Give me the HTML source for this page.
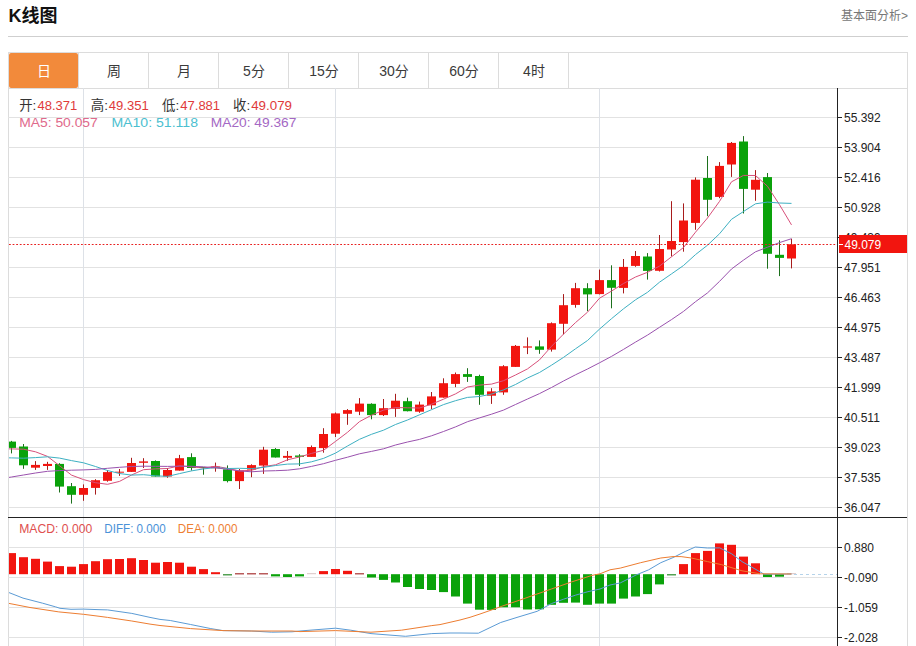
<!DOCTYPE html>
<html><head><meta charset="utf-8"><title>K线图</title>
<style>
html,body{margin:0;padding:0;background:#fff;}
body{width:916px;height:646px;overflow:hidden;}
svg{display:block;}
text{font-family:"Liberation Sans", "Noto Sans CJK SC", sans-serif;}
.title{font-size:18px;font-weight:bold;fill:#111;}
.more{font-size:12px;fill:#777;}
.tab{font-size:14px;fill:#3a3a3a;}
.tabw{fill:#fff;}
.ax{font-size:12px;fill:#222;}
.axw{font-size:12px;fill:#fff;}
.info{font-size:13.4px;}
.info2{font-size:12.2px;}
</style></head>
<body>
<svg width="916" height="646" viewBox="0 0 916 646">
<defs>
<clipPath id="plot"><rect x="9" y="89" width="828" height="428"/></clipPath>
<clipPath id="plot2"><rect x="9" y="518" width="828" height="128"/></clipPath>
</defs>
<rect width="916" height="646" fill="#fff"/>
<text x="8.5" y="22" class="title">K线图</text>
<text x="908" y="19.5" class="more" text-anchor="end">基本面分析&gt;</text>
<line x1="8" y1="36.5" x2="908" y2="36.5" stroke="#cfcfcf"/>
<line x1="8.5" y1="52" x2="8.5" y2="646" stroke="#dcdcdc"/>
<line x1="907.5" y1="52" x2="907.5" y2="646" stroke="#dcdcdc"/>
<line x1="8" y1="52.5" x2="908" y2="52.5" stroke="#dcdcdc"/>
<line x1="8" y1="88.5" x2="908" y2="88.5" stroke="#dcdcdc"/>
<rect x="9" y="53" width="69" height="35" rx="2" fill="#f28a3b"/>
<text x="44" y="75.5" class="tab tabw" text-anchor="middle">日</text>
<line x1="78.5" y1="52" x2="78.5" y2="88" stroke="#dcdcdc"/>
<text x="114" y="75.5" class="tab" text-anchor="middle">周</text>
<line x1="148.5" y1="52" x2="148.5" y2="88" stroke="#dcdcdc"/>
<text x="184" y="75.5" class="tab" text-anchor="middle">月</text>
<line x1="218.5" y1="52" x2="218.5" y2="88" stroke="#dcdcdc"/>
<text x="254" y="75.5" class="tab" text-anchor="middle">5分</text>
<line x1="288.5" y1="52" x2="288.5" y2="88" stroke="#dcdcdc"/>
<text x="324" y="75.5" class="tab" text-anchor="middle">15分</text>
<line x1="358.5" y1="52" x2="358.5" y2="88" stroke="#dcdcdc"/>
<text x="394" y="75.5" class="tab" text-anchor="middle">30分</text>
<line x1="428.5" y1="52" x2="428.5" y2="88" stroke="#dcdcdc"/>
<text x="464" y="75.5" class="tab" text-anchor="middle">60分</text>
<line x1="498.5" y1="52" x2="498.5" y2="88" stroke="#dcdcdc"/>
<text x="534" y="75.5" class="tab" text-anchor="middle">4时</text>
<line x1="568.5" y1="52" x2="568.5" y2="88" stroke="#dcdcdc"/>
<line x1="8" y1="117.5" x2="837" y2="117.5" stroke="#e2e2e2"/>
<line x1="8" y1="147.5" x2="837" y2="147.5" stroke="#e2e2e2"/>
<line x1="8" y1="177.5" x2="837" y2="177.5" stroke="#e2e2e2"/>
<line x1="8" y1="207.5" x2="837" y2="207.5" stroke="#e2e2e2"/>
<line x1="8" y1="237.5" x2="837" y2="237.5" stroke="#e2e2e2"/>
<line x1="8" y1="267.5" x2="837" y2="267.5" stroke="#e2e2e2"/>
<line x1="8" y1="297.5" x2="837" y2="297.5" stroke="#e2e2e2"/>
<line x1="8" y1="327.5" x2="837" y2="327.5" stroke="#e2e2e2"/>
<line x1="8" y1="357.5" x2="837" y2="357.5" stroke="#e2e2e2"/>
<line x1="8" y1="387.5" x2="837" y2="387.5" stroke="#e2e2e2"/>
<line x1="8" y1="417.5" x2="837" y2="417.5" stroke="#e2e2e2"/>
<line x1="8" y1="447.5" x2="837" y2="447.5" stroke="#e2e2e2"/>
<line x1="8" y1="477.5" x2="837" y2="477.5" stroke="#e2e2e2"/>
<line x1="8" y1="507.5" x2="837" y2="507.5" stroke="#e2e2e2"/>
<line x1="8" y1="547.5" x2="837" y2="547.5" stroke="#e2e2e2"/>
<line x1="8" y1="577.5" x2="837" y2="577.5" stroke="#e2e2e2"/>
<line x1="8" y1="607.5" x2="837" y2="607.5" stroke="#e2e2e2"/>
<line x1="8" y1="637.5" x2="837" y2="637.5" stroke="#e2e2e2"/>
<line x1="83.5" y1="88" x2="83.5" y2="646" stroke="#dde1e7"/>
<line x1="335.5" y1="88" x2="335.5" y2="646" stroke="#dde1e7"/>
<line x1="599.5" y1="88" x2="599.5" y2="646" stroke="#dde1e7"/>
<g clip-path="url(#plot)">
<line x1="11.5" y1="440.9" x2="11.5" y2="453.4" stroke="#1c701c" stroke-width="1"/>
<rect x="7.0" y="441.6" width="9" height="6.3" fill="#0aa20a"/>
<line x1="23.5" y1="444.0" x2="23.5" y2="468.8" stroke="#1c701c" stroke-width="1"/>
<rect x="19.0" y="446.5" width="9" height="18.8" fill="#0aa20a"/>
<line x1="35.5" y1="461.1" x2="35.5" y2="469.9" stroke="#a81c1c" stroke-width="1"/>
<rect x="31.0" y="464.9" width="9" height="2.8" fill="#f2150f"/>
<line x1="47.5" y1="461.8" x2="47.5" y2="469.9" stroke="#a81c1c" stroke-width="1"/>
<rect x="43.0" y="463.9" width="9" height="2.1" fill="#f2150f"/>
<line x1="59.5" y1="463.2" x2="59.5" y2="492.5" stroke="#1c701c" stroke-width="1"/>
<rect x="55.0" y="463.9" width="9" height="22.7" fill="#0aa20a"/>
<line x1="71.5" y1="483.0" x2="71.5" y2="503.6" stroke="#1c701c" stroke-width="1"/>
<rect x="67.0" y="486.2" width="9" height="8.6" fill="#0aa20a"/>
<line x1="83.5" y1="484.4" x2="83.5" y2="500.8" stroke="#a81c1c" stroke-width="1"/>
<rect x="79.0" y="488.0" width="9" height="6.8" fill="#f2150f"/>
<line x1="95.5" y1="479.2" x2="95.5" y2="494.6" stroke="#a81c1c" stroke-width="1"/>
<rect x="91.0" y="480.2" width="9" height="7.7" fill="#f2150f"/>
<line x1="107.5" y1="470.0" x2="107.5" y2="481.7" stroke="#a81c1c" stroke-width="1"/>
<rect x="103.0" y="472.1" width="9" height="8.7" fill="#f2150f"/>
<line x1="119.5" y1="469.0" x2="119.5" y2="475.9" stroke="#a81c1c" stroke-width="1"/>
<rect x="115.0" y="471.7" width="9" height="1.0" fill="#f2150f"/>
<line x1="131.5" y1="457.8" x2="131.5" y2="471.9" stroke="#a81c1c" stroke-width="1"/>
<rect x="127.0" y="463.0" width="9" height="8.9" fill="#f2150f"/>
<line x1="143.5" y1="458.2" x2="143.5" y2="468.0" stroke="#a81c1c" stroke-width="1"/>
<rect x="139.0" y="461.4" width="9" height="1.4" fill="#f2150f"/>
<line x1="155.5" y1="460.4" x2="155.5" y2="476.5" stroke="#1c701c" stroke-width="1"/>
<rect x="151.0" y="461.0" width="9" height="15.5" fill="#0aa20a"/>
<line x1="167.5" y1="468.0" x2="167.5" y2="477.8" stroke="#a81c1c" stroke-width="1"/>
<rect x="163.0" y="470.0" width="9" height="6.5" fill="#f2150f"/>
<line x1="179.5" y1="454.9" x2="179.5" y2="470.6" stroke="#a81c1c" stroke-width="1"/>
<rect x="175.0" y="458.2" width="9" height="12.4" fill="#f2150f"/>
<line x1="191.5" y1="453.3" x2="191.5" y2="470.6" stroke="#1c701c" stroke-width="1"/>
<rect x="187.0" y="457.1" width="9" height="10.9" fill="#0aa20a"/>
<line x1="203.5" y1="467.0" x2="203.5" y2="474.7" stroke="#1c701c" stroke-width="1"/>
<rect x="199.0" y="467.0" width="9" height="1.0" fill="#0aa20a"/>
<line x1="215.5" y1="462.6" x2="215.5" y2="471.7" stroke="#a81c1c" stroke-width="1"/>
<rect x="211.0" y="466.6" width="9" height="1.6" fill="#f2150f"/>
<line x1="227.5" y1="465.4" x2="227.5" y2="482.4" stroke="#1c701c" stroke-width="1"/>
<rect x="223.0" y="469.3" width="9" height="11.8" fill="#0aa20a"/>
<line x1="239.5" y1="469.0" x2="239.5" y2="489.0" stroke="#a81c1c" stroke-width="1"/>
<rect x="235.0" y="470.6" width="9" height="10.5" fill="#f2150f"/>
<line x1="251.5" y1="464.3" x2="251.5" y2="477.2" stroke="#a81c1c" stroke-width="1"/>
<rect x="247.0" y="465.1" width="9" height="4.5" fill="#f2150f"/>
<line x1="263.5" y1="446.8" x2="263.5" y2="473.9" stroke="#a81c1c" stroke-width="1"/>
<rect x="259.0" y="449.7" width="9" height="15.9" fill="#f2150f"/>
<line x1="275.5" y1="448.1" x2="275.5" y2="457.5" stroke="#1c701c" stroke-width="1"/>
<rect x="271.0" y="449.0" width="9" height="8.5" fill="#0aa20a"/>
<line x1="287.5" y1="451.0" x2="287.5" y2="460.8" stroke="#a81c1c" stroke-width="1"/>
<rect x="283.0" y="455.9" width="9" height="1.9" fill="#f2150f"/>
<line x1="299.5" y1="454.2" x2="299.5" y2="466.0" stroke="#1c701c" stroke-width="1"/>
<rect x="295.0" y="455.5" width="9" height="1.4" fill="#0aa20a"/>
<line x1="311.5" y1="445.5" x2="311.5" y2="456.9" stroke="#a81c1c" stroke-width="1"/>
<rect x="307.0" y="447.0" width="9" height="9.9" fill="#f2150f"/>
<line x1="323.5" y1="428.2" x2="323.5" y2="452.7" stroke="#a81c1c" stroke-width="1"/>
<rect x="319.0" y="434.0" width="9" height="14.1" fill="#f2150f"/>
<line x1="335.5" y1="412.5" x2="335.5" y2="437.0" stroke="#a81c1c" stroke-width="1"/>
<rect x="331.0" y="413.4" width="9" height="20.3" fill="#f2150f"/>
<line x1="347.5" y1="409.1" x2="347.5" y2="424.8" stroke="#a81c1c" stroke-width="1"/>
<rect x="343.0" y="410.1" width="9" height="3.7" fill="#f2150f"/>
<line x1="359.5" y1="398.1" x2="359.5" y2="415.1" stroke="#a81c1c" stroke-width="1"/>
<rect x="355.0" y="403.6" width="9" height="8.1" fill="#f2150f"/>
<line x1="371.5" y1="403.3" x2="371.5" y2="419.3" stroke="#1c701c" stroke-width="1"/>
<rect x="367.0" y="403.8" width="9" height="11.3" fill="#0aa20a"/>
<line x1="383.5" y1="399.0" x2="383.5" y2="416.0" stroke="#a81c1c" stroke-width="1"/>
<rect x="379.0" y="408.2" width="9" height="6.9" fill="#f2150f"/>
<line x1="395.5" y1="393.8" x2="395.5" y2="416.9" stroke="#a81c1c" stroke-width="1"/>
<rect x="391.0" y="400.7" width="9" height="8.1" fill="#f2150f"/>
<line x1="407.5" y1="397.7" x2="407.5" y2="411.4" stroke="#1c701c" stroke-width="1"/>
<rect x="403.0" y="401.2" width="9" height="10.0" fill="#0aa20a"/>
<line x1="419.5" y1="401.6" x2="419.5" y2="412.8" stroke="#a81c1c" stroke-width="1"/>
<rect x="415.0" y="404.6" width="9" height="7.1" fill="#f2150f"/>
<line x1="431.5" y1="392.0" x2="431.5" y2="409.1" stroke="#a81c1c" stroke-width="1"/>
<rect x="427.0" y="396.4" width="9" height="8.9" fill="#f2150f"/>
<line x1="443.5" y1="378.3" x2="443.5" y2="397.6" stroke="#a81c1c" stroke-width="1"/>
<rect x="439.0" y="383.2" width="9" height="14.4" fill="#f2150f"/>
<line x1="455.5" y1="372.5" x2="455.5" y2="387.2" stroke="#a81c1c" stroke-width="1"/>
<rect x="451.0" y="374.1" width="9" height="9.8" fill="#f2150f"/>
<line x1="467.5" y1="368.2" x2="467.5" y2="381.9" stroke="#1c701c" stroke-width="1"/>
<rect x="463.0" y="374.1" width="9" height="2.8" fill="#0aa20a"/>
<line x1="479.5" y1="374.7" x2="479.5" y2="404.8" stroke="#1c701c" stroke-width="1"/>
<rect x="475.0" y="376.0" width="9" height="18.8" fill="#0aa20a"/>
<line x1="491.5" y1="388.2" x2="491.5" y2="403.9" stroke="#a81c1c" stroke-width="1"/>
<rect x="487.0" y="391.4" width="9" height="4.3" fill="#f2150f"/>
<line x1="503.5" y1="365.2" x2="503.5" y2="394.8" stroke="#a81c1c" stroke-width="1"/>
<rect x="499.0" y="366.2" width="9" height="26.2" fill="#f2150f"/>
<line x1="515.5" y1="345.0" x2="515.5" y2="366.9" stroke="#a81c1c" stroke-width="1"/>
<rect x="511.0" y="345.9" width="9" height="21.0" fill="#f2150f"/>
<line x1="527.5" y1="337.4" x2="527.5" y2="354.1" stroke="#a81c1c" stroke-width="1"/>
<rect x="523.0" y="346.4" width="9" height="1.2" fill="#f2150f"/>
<line x1="539.5" y1="340.4" x2="539.5" y2="353.8" stroke="#1c701c" stroke-width="1"/>
<rect x="535.0" y="346.4" width="9" height="3.4" fill="#0aa20a"/>
<line x1="551.5" y1="322.4" x2="551.5" y2="351.6" stroke="#a81c1c" stroke-width="1"/>
<rect x="547.0" y="323.2" width="9" height="26.4" fill="#f2150f"/>
<line x1="563.5" y1="294.1" x2="563.5" y2="334.3" stroke="#a81c1c" stroke-width="1"/>
<rect x="559.0" y="305.2" width="9" height="18.6" fill="#f2150f"/>
<line x1="575.5" y1="282.9" x2="575.5" y2="307.7" stroke="#a81c1c" stroke-width="1"/>
<rect x="571.0" y="288.2" width="9" height="16.7" fill="#f2150f"/>
<line x1="587.5" y1="283.2" x2="587.5" y2="311.1" stroke="#1c701c" stroke-width="1"/>
<rect x="583.0" y="288.2" width="9" height="6.2" fill="#0aa20a"/>
<line x1="599.5" y1="269.6" x2="599.5" y2="294.4" stroke="#a81c1c" stroke-width="1"/>
<rect x="595.0" y="280.1" width="9" height="14.0" fill="#f2150f"/>
<line x1="611.5" y1="265.3" x2="611.5" y2="308.3" stroke="#1c701c" stroke-width="1"/>
<rect x="607.0" y="280.1" width="9" height="7.7" fill="#0aa20a"/>
<line x1="623.5" y1="259.0" x2="623.5" y2="293.4" stroke="#a81c1c" stroke-width="1"/>
<rect x="619.0" y="266.9" width="9" height="21.0" fill="#f2150f"/>
<line x1="635.5" y1="251.0" x2="635.5" y2="266.8" stroke="#a81c1c" stroke-width="1"/>
<rect x="631.0" y="256.0" width="9" height="9.9" fill="#f2150f"/>
<line x1="647.5" y1="253.1" x2="647.5" y2="279.6" stroke="#1c701c" stroke-width="1"/>
<rect x="643.0" y="256.5" width="9" height="14.4" fill="#0aa20a"/>
<line x1="659.5" y1="235.0" x2="659.5" y2="271.5" stroke="#a81c1c" stroke-width="1"/>
<rect x="655.0" y="249.0" width="9" height="21.8" fill="#f2150f"/>
<line x1="671.5" y1="201.2" x2="671.5" y2="256.4" stroke="#a81c1c" stroke-width="1"/>
<rect x="667.0" y="241.0" width="9" height="8.5" fill="#f2150f"/>
<line x1="683.5" y1="203.4" x2="683.5" y2="251.7" stroke="#a81c1c" stroke-width="1"/>
<rect x="679.0" y="220.5" width="9" height="21.6" fill="#f2150f"/>
<line x1="695.5" y1="177.4" x2="695.5" y2="229.8" stroke="#a81c1c" stroke-width="1"/>
<rect x="691.0" y="179.7" width="9" height="43.2" fill="#f2150f"/>
<line x1="707.5" y1="156.0" x2="707.5" y2="216.2" stroke="#1c701c" stroke-width="1"/>
<rect x="703.0" y="178.0" width="9" height="21.8" fill="#0aa20a"/>
<line x1="719.5" y1="162.1" x2="719.5" y2="198.2" stroke="#a81c1c" stroke-width="1"/>
<rect x="715.0" y="165.9" width="9" height="31.0" fill="#f2150f"/>
<line x1="731.5" y1="142.0" x2="731.5" y2="176.9" stroke="#a81c1c" stroke-width="1"/>
<rect x="727.0" y="142.9" width="9" height="21.6" fill="#f2150f"/>
<line x1="743.5" y1="136.1" x2="743.5" y2="213.5" stroke="#1c701c" stroke-width="1"/>
<rect x="739.0" y="141.5" width="9" height="47.4" fill="#0aa20a"/>
<line x1="755.5" y1="170.1" x2="755.5" y2="200.8" stroke="#a81c1c" stroke-width="1"/>
<rect x="751.0" y="179.8" width="9" height="9.9" fill="#f2150f"/>
<line x1="767.5" y1="173.0" x2="767.5" y2="268.7" stroke="#1c701c" stroke-width="1"/>
<rect x="763.0" y="177.1" width="9" height="76.7" fill="#0aa20a"/>
<line x1="779.5" y1="240.3" x2="779.5" y2="276.1" stroke="#1c701c" stroke-width="1"/>
<rect x="775.0" y="254.8" width="9" height="3.1" fill="#0aa20a"/>
<line x1="791.5" y1="238.8" x2="791.5" y2="268.4" stroke="#a81c1c" stroke-width="1"/>
<rect x="787.0" y="244.3" width="9" height="14.2" fill="#f2150f"/>
<path d="M-0.5,448.6 L11.5,448.9 L23.5,449.2 L35.5,451.8 L47.5,456.4 L59.5,465.7 L71.5,475.1 L83.5,479.6 L95.5,482.7 L107.5,484.3 L119.5,481.4 L131.5,475.0 L143.5,469.7 L155.5,468.9 L167.5,468.5 L179.5,465.8 L191.5,466.8 L203.5,468.1 L215.5,466.2 L227.5,468.4 L239.5,470.9 L251.5,470.3 L263.5,466.6 L275.5,464.8 L287.5,459.8 L299.5,457.0 L311.5,453.4 L323.5,450.3 L335.5,441.4 L347.5,432.3 L359.5,421.6 L371.5,415.2 L383.5,410.1 L395.5,407.5 L407.5,407.8 L419.5,408.0 L431.5,404.2 L443.5,399.2 L455.5,393.9 L467.5,387.0 L479.5,385.1 L491.5,384.1 L503.5,380.7 L515.5,375.0 L527.5,368.9 L539.5,359.9 L551.5,346.3 L563.5,334.1 L575.5,322.6 L587.5,312.2 L599.5,298.2 L611.5,291.1 L623.5,283.5 L635.5,277.0 L647.5,272.3 L659.5,266.1 L671.5,256.8 L683.5,247.5 L695.5,232.2 L707.5,218.0 L719.5,201.4 L731.5,181.8 L743.5,175.4 L755.5,175.5 L767.5,186.3 L779.5,204.7 L791.5,224.9" fill="none" stroke="#d8507a" stroke-width="1"/>
<path d="M-0.5,457.6 L11.5,457.9 L23.5,458.2 L35.5,457.6 L47.5,456.8 L59.5,458.1 L71.5,460.6 L83.5,462.8 L95.5,466.5 L107.5,470.5 L119.5,473.5 L131.5,475.1 L143.5,474.7 L155.5,475.8 L167.5,476.4 L179.5,473.6 L191.5,470.9 L203.5,468.9 L215.5,467.6 L227.5,468.5 L239.5,468.3 L251.5,468.6 L263.5,467.4 L275.5,465.5 L287.5,464.1 L299.5,463.9 L311.5,461.8 L323.5,458.4 L335.5,453.1 L347.5,446.0 L359.5,439.3 L371.5,434.3 L383.5,430.2 L395.5,424.5 L407.5,420.0 L419.5,414.8 L431.5,409.7 L443.5,404.6 L455.5,400.7 L467.5,397.4 L479.5,396.5 L491.5,394.1 L503.5,389.9 L515.5,384.5 L527.5,378.0 L539.5,372.5 L551.5,365.2 L563.5,357.4 L575.5,348.8 L587.5,340.5 L599.5,329.1 L611.5,318.7 L623.5,308.8 L635.5,299.8 L647.5,292.3 L659.5,282.2 L671.5,273.9 L683.5,265.5 L695.5,254.6 L707.5,245.2 L719.5,233.8 L731.5,219.3 L743.5,211.5 L755.5,203.8 L767.5,202.1 L779.5,203.0 L791.5,203.4" fill="none" stroke="#3eb0c2" stroke-width="1"/>
<path d="M-0.5,479.0 L11.5,477.0 L23.5,475.0 L35.5,473.0 L47.5,471.3 L59.5,470.6 L71.5,470.2 L83.5,469.9 L95.5,469.4 L107.5,468.3 L119.5,467.3 L131.5,466.5 L143.5,466.2 L155.5,466.3 L167.5,466.4 L179.5,466.2 L191.5,466.3 L203.5,466.8 L215.5,467.8 L227.5,469.3 L239.5,470.9 L251.5,471.8 L263.5,471.0 L275.5,470.7 L287.5,470.2 L299.5,468.8 L311.5,466.4 L323.5,463.7 L335.5,460.3 L347.5,457.2 L359.5,453.8 L371.5,451.4 L383.5,448.8 L395.5,445.0 L407.5,442.0 L419.5,439.4 L431.5,435.8 L443.5,431.5 L455.5,426.9 L467.5,421.7 L479.5,417.9 L491.5,414.2 L503.5,410.1 L515.5,404.5 L527.5,399.0 L539.5,393.6 L551.5,387.5 L563.5,381.0 L575.5,374.8 L587.5,369.0 L599.5,362.8 L611.5,356.4 L623.5,349.4 L635.5,342.1 L647.5,335.1 L659.5,327.3 L671.5,319.6 L683.5,311.4 L695.5,301.7 L707.5,292.9 L719.5,281.4 L731.5,269.0 L743.5,260.1 L755.5,251.8 L767.5,247.2 L779.5,242.6 L791.5,238.7" fill="none" stroke="#9a52ae" stroke-width="1"/>
<line x1="9" y1="244.5" x2="837" y2="244.5" stroke="#e82020" stroke-dasharray="1.8,1.8"/>
</g>
<g clip-path="url(#plot2)">
<rect x="7.0" y="553.1" width="9" height="21.1" fill="#f2150f"/>
<rect x="19.0" y="557.2" width="9" height="17.0" fill="#f2150f"/>
<rect x="31.0" y="558.8" width="9" height="15.4" fill="#f2150f"/>
<rect x="43.0" y="561.6" width="9" height="12.6" fill="#f2150f"/>
<rect x="55.0" y="566.1" width="9" height="8.1" fill="#f2150f"/>
<rect x="67.0" y="566.7" width="9" height="7.5" fill="#f2150f"/>
<rect x="79.0" y="564.1" width="9" height="10.1" fill="#f2150f"/>
<rect x="91.0" y="561.2" width="9" height="13.0" fill="#f2150f"/>
<rect x="103.0" y="559.2" width="9" height="15.0" fill="#f2150f"/>
<rect x="115.0" y="559.0" width="9" height="15.2" fill="#f2150f"/>
<rect x="127.0" y="558.2" width="9" height="16.0" fill="#f2150f"/>
<rect x="139.0" y="560.0" width="9" height="14.2" fill="#f2150f"/>
<rect x="151.0" y="562.7" width="9" height="11.5" fill="#f2150f"/>
<rect x="163.0" y="562.0" width="9" height="12.2" fill="#f2150f"/>
<rect x="175.0" y="562.7" width="9" height="11.5" fill="#f2150f"/>
<rect x="187.0" y="566.7" width="9" height="7.5" fill="#f2150f"/>
<rect x="199.0" y="569.1" width="9" height="5.1" fill="#f2150f"/>
<rect x="211.0" y="572.2" width="9" height="2.0" fill="#f2150f"/>
<rect x="223.0" y="574.2" width="9" height="1.2" fill="#2a8a2a"/>
<rect x="235.0" y="573.2" width="9" height="1.2" fill="#a83434"/>
<rect x="247.0" y="573.2" width="9" height="1.2" fill="#a83434"/>
<rect x="259.0" y="573.2" width="9" height="1.2" fill="#a83434"/>
<rect x="271.0" y="574.2" width="9" height="2.2" fill="#0aa20a"/>
<rect x="283.0" y="574.2" width="9" height="2.8" fill="#0aa20a"/>
<rect x="295.0" y="574.2" width="9" height="2.2" fill="#0aa20a"/>
<rect x="307.0" y="573.2" width="9" height="1" fill="#d9c4c4"/>
<rect x="319.0" y="571.1" width="9" height="3.1" fill="#f2150f"/>
<rect x="331.0" y="569.0" width="9" height="5.2" fill="#f2150f"/>
<rect x="343.0" y="570.8" width="9" height="3.4" fill="#f2150f"/>
<rect x="355.0" y="573.2" width="9" height="1.2" fill="#a83434"/>
<rect x="367.0" y="574.2" width="9" height="3.3" fill="#0aa20a"/>
<rect x="379.0" y="574.2" width="9" height="5.7" fill="#0aa20a"/>
<rect x="391.0" y="574.2" width="9" height="8.3" fill="#0aa20a"/>
<rect x="403.0" y="574.2" width="9" height="12.8" fill="#0aa20a"/>
<rect x="415.0" y="574.2" width="9" height="14.8" fill="#0aa20a"/>
<rect x="427.0" y="574.2" width="9" height="15.8" fill="#0aa20a"/>
<rect x="439.0" y="574.2" width="9" height="17.9" fill="#0aa20a"/>
<rect x="451.0" y="574.2" width="9" height="22.3" fill="#0aa20a"/>
<rect x="463.0" y="574.2" width="9" height="29.4" fill="#0aa20a"/>
<rect x="475.0" y="574.2" width="9" height="35.5" fill="#0aa20a"/>
<rect x="487.0" y="574.2" width="9" height="35.7" fill="#0aa20a"/>
<rect x="499.0" y="574.2" width="9" height="33.1" fill="#0aa20a"/>
<rect x="511.0" y="574.2" width="9" height="33.1" fill="#0aa20a"/>
<rect x="523.0" y="574.2" width="9" height="35.3" fill="#0aa20a"/>
<rect x="535.0" y="574.2" width="9" height="35.1" fill="#0aa20a"/>
<rect x="547.0" y="574.2" width="9" height="30.6" fill="#0aa20a"/>
<rect x="559.0" y="574.2" width="9" height="28.6" fill="#0aa20a"/>
<rect x="571.0" y="574.2" width="9" height="28.4" fill="#0aa20a"/>
<rect x="583.0" y="574.2" width="9" height="30.6" fill="#0aa20a"/>
<rect x="595.0" y="574.2" width="9" height="29.4" fill="#0aa20a"/>
<rect x="607.0" y="574.2" width="9" height="29.4" fill="#0aa20a"/>
<rect x="619.0" y="574.2" width="9" height="24.4" fill="#0aa20a"/>
<rect x="631.0" y="574.2" width="9" height="22.3" fill="#0aa20a"/>
<rect x="643.0" y="574.2" width="9" height="19.9" fill="#0aa20a"/>
<rect x="655.0" y="574.2" width="9" height="10.2" fill="#0aa20a"/>
<rect x="667.0" y="574.2" width="9" height="1.2" fill="#2a8a2a"/>
<rect x="679.0" y="564.1" width="9" height="10.1" fill="#f2150f"/>
<rect x="691.0" y="553.1" width="9" height="21.1" fill="#f2150f"/>
<rect x="703.0" y="550.9" width="9" height="23.3" fill="#f2150f"/>
<rect x="715.0" y="543.4" width="9" height="30.8" fill="#f2150f"/>
<rect x="727.0" y="544.8" width="9" height="29.4" fill="#f2150f"/>
<rect x="739.0" y="556.6" width="9" height="17.6" fill="#f2150f"/>
<rect x="751.0" y="563.3" width="9" height="10.9" fill="#f2150f"/>
<rect x="763.0" y="574.2" width="9" height="2.8" fill="#0aa20a"/>
<rect x="775.0" y="574.2" width="9" height="2.5" fill="#0aa20a"/>
<rect x="787.0" y="573.2" width="9" height="1" fill="#d9c4c4"/>
<path d="M8.5,592.4 L23.0,598.1 L42.6,603.2 L55.7,606.9 L60.0,608.3 L71.0,609.3 L83.5,609.1 L100.0,609.7 L107.5,609.9 L131.8,613.4 L150.0,617.4 L160.0,619.4 L170.3,620.5 L190.6,624.5 L210.8,628.6 L223.0,630.6 L251.4,631.0 L271.7,632.2 L292.0,631.8 L300.0,631.0 L310.0,630.2 L335.5,628.2 L350.7,630.2 L371.0,633.6 L405.5,636.3 L431.8,633.6 L450.0,633.0 L460.0,633.0 L478.4,633.2 L500.7,622.5 L517.0,617.4 L537.2,611.3 L551.4,603.6 L563.6,599.2 L575.7,595.1 L587.9,591.7 L600.0,589.0 L610.0,585.0 L620.3,582.9 L636.5,574.8 L648.7,569.8 L660.8,562.7 L673.0,557.6 L685.2,551.5 L695.3,547.0 L707.5,548.0 L719.7,547.9 L731.8,553.9 L742.0,561.6 L760.0,571.8 L764.0,574.2 L791.5,574.0" fill="none" stroke="#5b9bd5" stroke-width="1"/>
<path d="M8.5,603.3 L30.0,607.5 L58.8,611.9 L83.5,614.3 L100.0,616.4 L107.5,617.4 L131.8,621.0 L150.0,624.1 L160.0,625.5 L190.6,628.6 L223.0,630.6 L251.0,631.0 L292.0,631.0 L300.0,631.6 L335.5,630.6 L371.0,632.2 L401.4,630.2 L431.8,625.6 L440.0,624.6 L450.0,622.3 L460.0,620.0 L470.0,617.3 L480.0,614.0 L490.0,610.5 L500.0,606.9 L510.0,603.4 L520.0,600.0 L531.1,596.1 L551.4,589.0 L571.7,581.9 L592.0,575.4 L600.0,573.8 L610.0,569.8 L620.3,568.1 L640.6,562.7 L660.8,558.0 L673.0,556.6 L681.1,556.6 L691.3,558.0 L707.5,561.6 L721.7,564.7 L742.0,570.8 L760.0,573.8 L791.5,574.0" fill="none" stroke="#ed7d31" stroke-width="1"/>
<line x1="794" y1="574.5" x2="837" y2="574.5" stroke="#b5d3ea" stroke-dasharray="3,3"/>
</g>
<line x1="8" y1="517.5" x2="907" y2="517.5" stroke="#222"/>
<line x1="837.5" y1="88" x2="837.5" y2="646" stroke="#222"/>
<line x1="837" y1="117.5" x2="842" y2="117.5" stroke="#222"/>
<text x="844" y="121.5" class="ax">55.392</text>
<line x1="837" y1="147.5" x2="842" y2="147.5" stroke="#222"/>
<text x="844" y="151.5" class="ax">53.904</text>
<line x1="837" y1="177.5" x2="842" y2="177.5" stroke="#222"/>
<text x="844" y="181.5" class="ax">52.416</text>
<line x1="837" y1="207.5" x2="842" y2="207.5" stroke="#222"/>
<text x="844" y="211.5" class="ax">50.928</text>
<line x1="837" y1="237.5" x2="842" y2="237.5" stroke="#222"/>
<text x="844" y="241.5" class="ax">49.439</text>
<line x1="837" y1="267.5" x2="842" y2="267.5" stroke="#222"/>
<text x="844" y="271.5" class="ax">47.951</text>
<line x1="837" y1="297.5" x2="842" y2="297.5" stroke="#222"/>
<text x="844" y="301.5" class="ax">46.463</text>
<line x1="837" y1="327.5" x2="842" y2="327.5" stroke="#222"/>
<text x="844" y="331.5" class="ax">44.975</text>
<line x1="837" y1="357.5" x2="842" y2="357.5" stroke="#222"/>
<text x="844" y="361.5" class="ax">43.487</text>
<line x1="837" y1="387.5" x2="842" y2="387.5" stroke="#222"/>
<text x="844" y="391.5" class="ax">41.999</text>
<line x1="837" y1="417.5" x2="842" y2="417.5" stroke="#222"/>
<text x="844" y="421.5" class="ax">40.511</text>
<line x1="837" y1="447.5" x2="842" y2="447.5" stroke="#222"/>
<text x="844" y="451.5" class="ax">39.023</text>
<line x1="837" y1="477.5" x2="842" y2="477.5" stroke="#222"/>
<text x="844" y="481.5" class="ax">37.535</text>
<line x1="837" y1="507.5" x2="842" y2="507.5" stroke="#222"/>
<text x="844" y="511.5" class="ax">36.047</text>
<line x1="837" y1="547.5" x2="842" y2="547.5" stroke="#222"/>
<text x="844" y="551.5" class="ax">0.880</text>
<line x1="837" y1="577.5" x2="842" y2="577.5" stroke="#222"/>
<text x="844" y="581.5" class="ax">-0.090</text>
<line x1="837" y1="607.5" x2="842" y2="607.5" stroke="#222"/>
<text x="844" y="611.5" class="ax">-1.059</text>
<line x1="837" y1="637.5" x2="842" y2="637.5" stroke="#222"/>
<text x="844" y="641.5" class="ax">-2.028</text>
<rect x="839" y="235" width="68" height="18" fill="#f2150f"/>
<line x1="839" y1="244.5" x2="843" y2="244.5" stroke="#fff"/>
<text x="844.5" y="248.5" class="axw">49.079</text>
<text x="19.2" y="110.2" class="info" fill="#333">开:</text>
<text x="37.5" y="110.2" class="info" fill="#e03a3a" textLength="39.8" lengthAdjust="spacingAndGlyphs">48.371</text>
<text x="90.8" y="110.2" class="info" fill="#333">高:</text>
<text x="108.8" y="110.2" class="info" fill="#e03a3a" textLength="40.0" lengthAdjust="spacingAndGlyphs">49.351</text>
<text x="162.0" y="110.2" class="info" fill="#333">低:</text>
<text x="180.3" y="110.2" class="info" fill="#e03a3a" textLength="39.8" lengthAdjust="spacingAndGlyphs">47.881</text>
<text x="233.0" y="110.2" class="info" fill="#333">收:</text>
<text x="251.2" y="110.2" class="info" fill="#e03a3a" textLength="40.8" lengthAdjust="spacingAndGlyphs">49.079</text>
<text x="19.2" y="127.4" class="info" fill="#df6a8c" textLength="78.6" lengthAdjust="spacingAndGlyphs">MA5: 50.057</text>
<text x="111.4" y="127.4" class="info" fill="#4cbfd0" textLength="86.6" lengthAdjust="spacingAndGlyphs">MA10: 51.118</text>
<text x="210.8" y="127.4" class="info" fill="#a468c4" textLength="85.6" lengthAdjust="spacingAndGlyphs">MA20: 49.367</text>
<text x="19.2" y="532.8" class="info2" fill="#e0504f" textLength="73.0" lengthAdjust="spacingAndGlyphs">MACD: 0.000</text>
<text x="104.3" y="532.8" class="info2" fill="#4a92d8" textLength="61.4" lengthAdjust="spacingAndGlyphs">DIFF: 0.000</text>
<text x="177.8" y="532.8" class="info2" fill="#ee8033" textLength="59.8" lengthAdjust="spacingAndGlyphs">DEA: 0.000</text>
</svg>
</body></html>
